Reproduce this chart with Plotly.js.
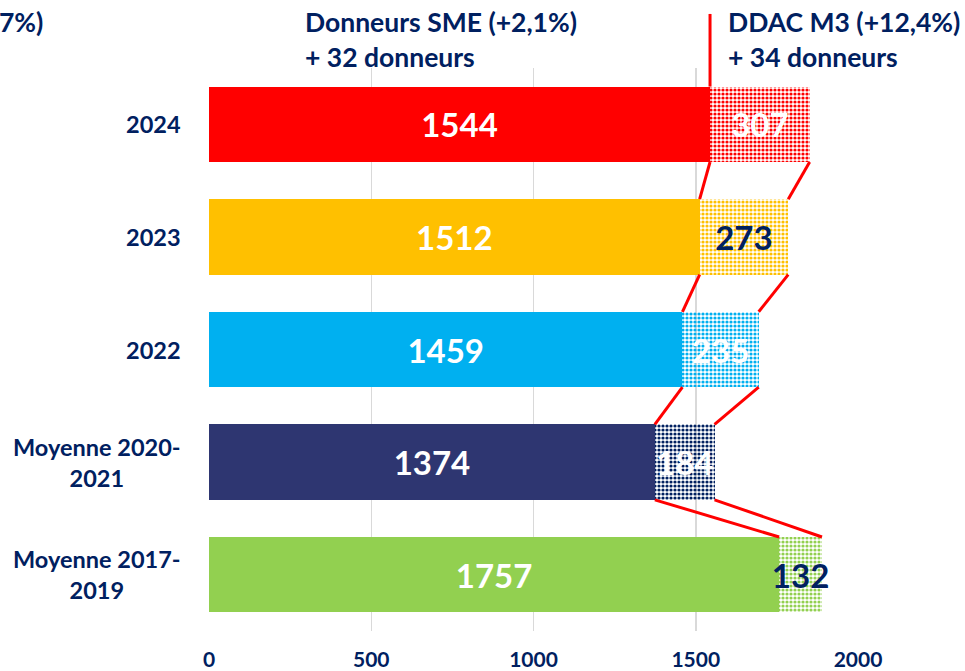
<!DOCTYPE html>
<html>
<head>
<meta charset="utf-8">
<script src="https://cdn.plot.ly/plotly-3.0.1.min.js"></script>
<style>html,body{margin:0;padding:0;background:#fff;}#chart{width:965px;height:671px;}</style>
</head>
<body>
<div id="chart"></div>
<script>
const categories = ['2024', '2023', '2022', 'Moyenne 2020-2021', 'Moyenne 2017-2019'];
const categoryLabels = ['2024', '2023', '2022', 'Moyenne 2020-<br>2021', 'Moyenne 2017-<br>2019'];
const smeValues = [1544, 1512, 1459, 1374, 1757];
const ddacValues = [307, 273, 235, 184, 132];
const xTicks = [0, 500, 1000, 1500, 2000];
const headerSme = ['Donneurs SME (+2,1%)', '+ 32 donneurs'];
const headerDdac = ['DDAC M3 (+12,4%)', '+ 34 donneurs'];
const headerTotal = '7%)';

const NAVY = '#002060';
const FONT = 'Lato, "Open Sans", sans-serif';
const barColors = ['#FF0000', '#FFC000', '#00B0F0', '#2E3671', '#92D050'];
const ddacColors = ['#FF0000', '#FFC000', '#00B0F0', '#002060', '#92D050'];
const ddacTextColors = ['#FFFFFF', NAVY, '#FFFFFF', '#FFFFFF', NAVY];
const BAR_W = 0.67;

const traces = [
  {
    type: 'bar', orientation: 'h', y: categories, x: smeValues,
    width: BAR_W,
    marker: {color: barColors, line: {width: 0}},
    text: smeValues.map(String), textposition: 'inside', insidetextanchor: 'middle',
    textangle: 0, constraintext: 'none',
    textfont: {family: FONT, size: 33, color: '#FFFFFF', weight: 'bold'},
    hoverinfo: 'none'
  },
  {
    type: 'bar', orientation: 'h', y: categories, x: ddacValues,
    width: BAR_W,
    marker: {color: ddacColors, line: {width: 0},
      pattern: {shape: '.', fgcolor: '#FFFFFF', size: 4, solidity: 0.5}},
    text: ddacValues.map(String), textposition: 'inside', insidetextanchor: 'middle',
    textangle: 0, constraintext: 'none',
    textfont: {family: FONT, size: 33, color: ddacTextColors, weight: 'bold'},
    cliponaxis: false,
    hoverinfo: 'none'
  }
];

const shapes = [];
for (let i = 0; i < categories.length - 1; i++) {
  shapes.push({type: 'line', xref: 'x', yref: 'y',
    x0: smeValues[i], y0: i + BAR_W / 2, x1: smeValues[i + 1], y1: i + 1 - BAR_W / 2,
    line: {color: '#FF0000', width: 3}});
  shapes.push({type: 'line', xref: 'x', yref: 'y',
    x0: smeValues[i] + ddacValues[i], y0: i + BAR_W / 2,
    x1: smeValues[i + 1] + ddacValues[i + 1], y1: i + 1 - BAR_W / 2,
    line: {color: '#FF0000', width: 3}});
}
// vertical marker above the 2024 split
shapes.push({type: 'line', xref: 'x', yref: 'paper',
  x0: smeValues[0], x1: smeValues[0],
  y0: 1 - (0.5 - BAR_W / 2) / categories.length, y1: 1.096,
  line: {color: '#FF0000', width: 3}});

const annotations = categoryLabels.map((t, i) => ({
  xref: 'paper', yref: 'y', x: 0, y: i, xanchor: 'right', xshift: -26,
  text: t, align: 'center', showarrow: false,
  font: {family: FONT, size: 23.5, color: NAVY, weight: 'bold'}
}));
const hdrFont = {family: FONT, size: 26.5, color: NAVY, weight: 'bold'};
annotations.push({xref: 'paper', yref: 'paper', x: 0.145, y: 1.0817, xanchor: 'left', yanchor: 'middle',
  text: headerSme[0], showarrow: false, font: hdrFont});
annotations.push({xref: 'paper', yref: 'paper', x: 0.145, y: 1.0195, xanchor: 'left', yanchor: 'middle',
  text: headerSme[1], showarrow: false, font: hdrFont});
annotations.push({xref: 'paper', yref: 'paper', x: 0.796, y: 1.0817, xanchor: 'left', yanchor: 'middle',
  text: headerDdac[0], showarrow: false, font: hdrFont});
annotations.push({xref: 'paper', yref: 'paper', x: 0.796, y: 1.0195, xanchor: 'left', yanchor: 'middle',
  text: headerDdac[1], showarrow: false, font: hdrFont});
annotations.push({xref: 'paper', yref: 'paper', x: -0.326, y: 1.0817, xanchor: 'left', yanchor: 'middle',
  text: headerTotal, showarrow: false, font: hdrFont});

const layout = {
  width: 965, height: 671,
  margin: {l: 209, r: 107, t: 68, b: 40},
  paper_bgcolor: '#FFFFFF', plot_bgcolor: '#FFFFFF',
  barmode: 'stack', showlegend: false,
  xaxis: {range: [0, 2000], tickvals: xTicks, ticktext: xTicks.map(String),
    showgrid: true, gridcolor: '#D9D9D9', gridwidth: 1.5, zeroline: false,
    showline: false, ticks: '', ticklabelstandoff: 14,
    tickfont: {family: FONT, size: 21, color: NAVY, weight: 'bold'}, fixedrange: true},
  yaxis: {type: 'category', categoryorder: 'array', categoryarray: categories,
    range: [categories.length - 0.5, -0.5], showticklabels: false, showgrid: false,
    zeroline: false, showline: false, ticks: '', fixedrange: true},
  shapes: shapes,
  annotations: annotations
};

Plotly.newPlot('chart', traces, layout, {displayModeBar: false, staticPlot: true});
</script>
</body>
</html>
